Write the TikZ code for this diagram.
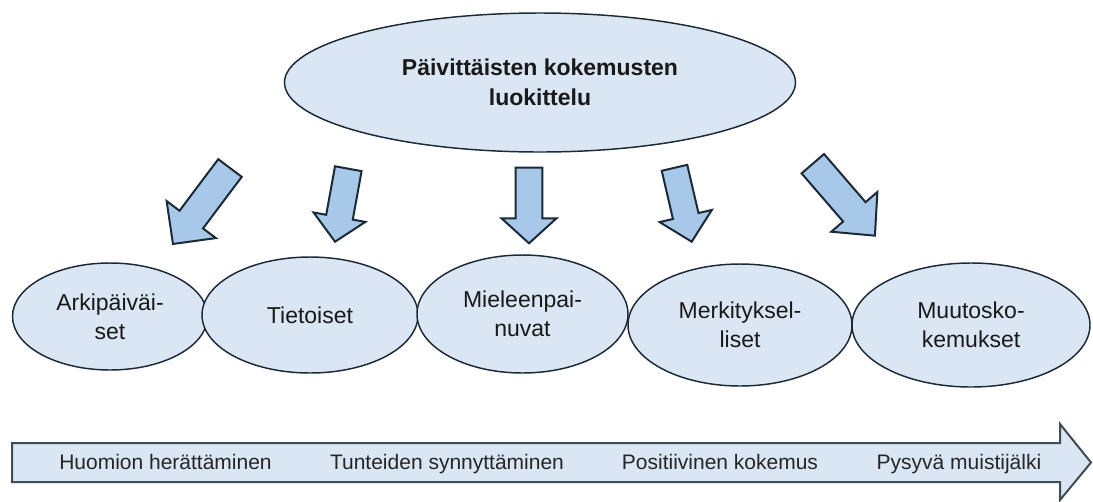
\documentclass[tikz,border=0pt]{standalone}
\usepackage{fontspec}
\setmainfont{Liberation Sans}
\usetikzlibrary{shapes.geometric}

\definecolor{ovalfill}{HTML}{DAE6F3}
\definecolor{arrowfill}{HTML}{A8C8EA}
\definecolor{inkline}{HTML}{1B2A36}
\definecolor{bandline}{HTML}{3E4C55}

\tikzset{
  oval/.style={ellipse, draw=inkline, fill=ovalfill, line width=1.1pt,
    inner sep=0pt, align=center, text=black!90,
    font=\fontsize{17.25}{21.75}\selectfont},
  blockarrow/.style={draw=inkline, fill=arrowfill, line width=1.5pt, line join=miter},
  band/.style={draw=bandline, fill=ovalfill, line width=1.5pt, line join=miter},
  stage/.style={inner sep=0pt, anchor=base, text=black!85,
    font=\fontsize{15.75}{18}\selectfont}
}

% block arrow: tail centre x, y; direction angle; length;
% shaft half-width; head half-width; head length
\newcommand\blockarrow[7]{%
  \begin{scope}[shift={(#1,#2)}, rotate=#3]
    \draw[blockarrow] (0,#5) -- ({#4-#7},#5) -- ({#4-#7},#6) -- (#4,0)
      -- ({#4-#7},-#6) -- ({#4-#7},-#5) -- (0,-#5) -- cycle;
  \end{scope}}

\begin{document}
\begin{tikzpicture}[x=0.75pt, y=-0.75pt]
  \useasboundingbox (0,0) rectangle (1093,501);
  \fill[white] (0,0) rectangle (1093,501);

  % main category
  \node[oval, minimum width={511*0.75pt}, minimum height={139*0.75pt},
        font=\bfseries\fontsize{17.25}{22.5}\selectfont]
    (root) at (540,82.5) {Päivittäisten kokemusten\\luokittelu};

  % arrows fanning out
  \blockarrow{230}{168}{-126.9}{95}{14.7}{30.8}{30.5}
  \blockarrow{348.3}{168.7}{-100.3}{74.2}{13.5}{26.3}{24.9}
  \blockarrow{529}{167.7}{-90}{75.6}{13.3}{27.5}{25}
  \blockarrow{674.5}{167.8}{-76.9}{75.9}{13.1}{26.8}{26.4}
  \blockarrow{812.8}{163.7}{-49.2}{95.1}{14.8}{30.4}{31.5}

  % sub-categories
  \node[oval, minimum width={195*0.75pt}, minimum height={107*0.75pt}]
    (arki) at (110,316.5) {Arkipäiväi-\\set};
  \node[oval, minimum width={216*0.75pt}, minimum height={116*0.75pt}]
    (tiet) at (310,315) {Tietoiset};
  \node[oval, minimum width={211*0.75pt}, minimum height={118*0.75pt}]
    (miel) at (522.5,314) {Mieleenpai-\\nuvat};
  \node[oval, minimum width={224*0.75pt}, minimum height={122*0.75pt}]
    (merk) at (740,325) {Merkityksel-\\liset};
  \node[oval, minimum width={238*0.75pt}, minimum height={124*0.75pt}]
    (muut) at (971,325) {Muutosko-\\kemukset};

  % progression band
  \draw[band] (12,443) -- (1060,443) -- (1060,424) -- (1091,462.5)
    -- (1060,500) -- (1060,482) -- (12,482) -- cycle;
  \node[stage] (s1) at (165.5,469.5) {Huomion herättäminen};
  \node[stage] (s2) at (447,469.5) {Tunteiden synnyttäminen};
  \node[stage] (s3) at (720,469.5) {Positiivinen kokemus};
  \node[stage] (s4) at (959,469.5) {Pysyvä muistijälki};
\end{tikzpicture}
\end{document}
